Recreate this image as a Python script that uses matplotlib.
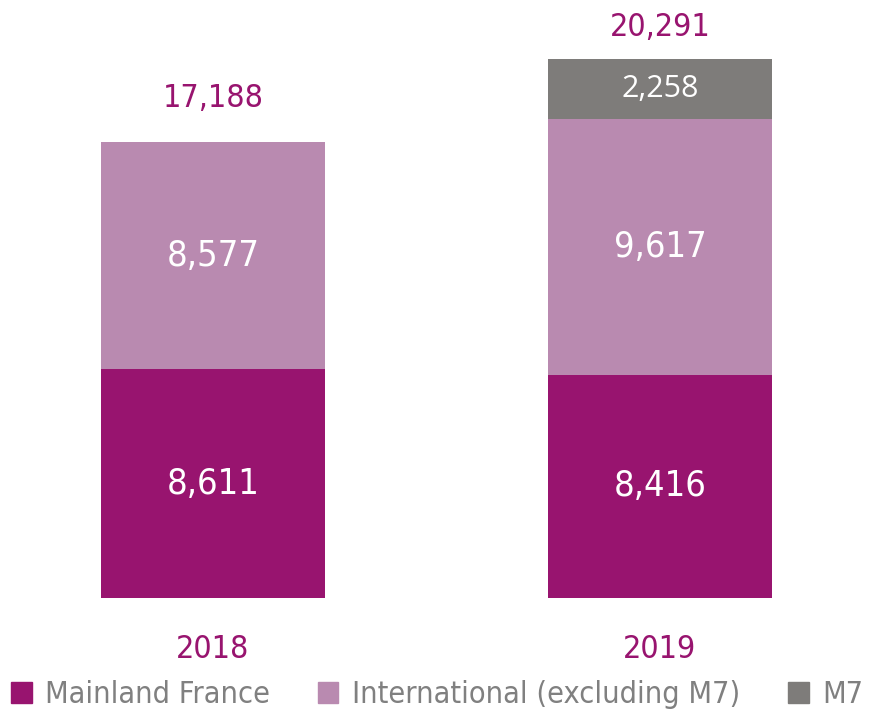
import matplotlib
matplotlib.use("Agg")
import matplotlib.pyplot as plt
from matplotlib.patches import Patch

years = ["2018", "2019"]
mainland = [8611, 8416]
international = [8577, 9617]
m7 = [0, 2258]
totals = [17188, 20291]
series_names = ["Mainland France", "International (excluding M7)", "M7"]

c_main = "#98146F"
c_int = "#B98AB0"
c_m7 = "#7E7C7A"

fig = plt.figure(figsize=(8.69, 7.12), dpi=100)
ax = fig.add_axes([0, 0, 1, 1])
x = [0, 1]
w = 0.501
ax.bar(x, mainland, w, color=c_main)
ax.bar(x, international, w, bottom=mainland, color=c_int)
ax.bar(x, m7, w, bottom=[a + b for a, b in zip(mainland, international)], color=c_m7)

ax.set_xlim(-0.4765, 1.4676)
ax.set_ylim(-4294, 22527)
ax.axis("off")

fam = "DejaVu Sans"
total_offsets = [20, 12]
for i in range(2):
    ax.text(x[i], mainland[i] / 2, f"{mainland[i]:,}", ha="center", va="center",
            color="white", fontsize=26, family=fam, fontstretch="condensed")
    ax.text(x[i], mainland[i] + international[i] / 2, f"{international[i]:,}", ha="center",
            va="center", color="white", fontsize=26, family=fam, fontstretch="condensed")
    if m7[i]:
        ax.text(x[i], mainland[i] + international[i] + m7[i] / 2, f"{m7[i]:,}", ha="center",
                va="center", color="white", fontsize=22, family="Open Sans")
    ax.annotate(f"{totals[i]:,}", (x[i], totals[i]), xytext=(0, total_offsets[i]),
                textcoords="offset points", ha="center", va="bottom", color=c_main,
                fontsize=23, family=fam, fontstretch="condensed")
    ax.annotate(years[i], (x[i], 0), xytext=(0, -37), textcoords="offset points",
                ha="center", va="center", color=c_main, fontsize=23, family=fam,
                fontstretch="condensed")

handles = [Patch(color=c_main), Patch(color=c_int), Patch(color=c_m7)]
leg = fig.legend(handles, series_names, loc="lower center", bbox_to_anchor=(0.503, -0.035), ncol=3,
                 frameon=False, handlelength=0.68, handleheight=0.68, handletextpad=0.45,
                 columnspacing=1.55,
                 prop={"family": fam, "size": 22, "stretch": "condensed"})
for t in leg.get_texts():
    t.set_color("#808080")

fig.savefig("out.png", dpi=100)
